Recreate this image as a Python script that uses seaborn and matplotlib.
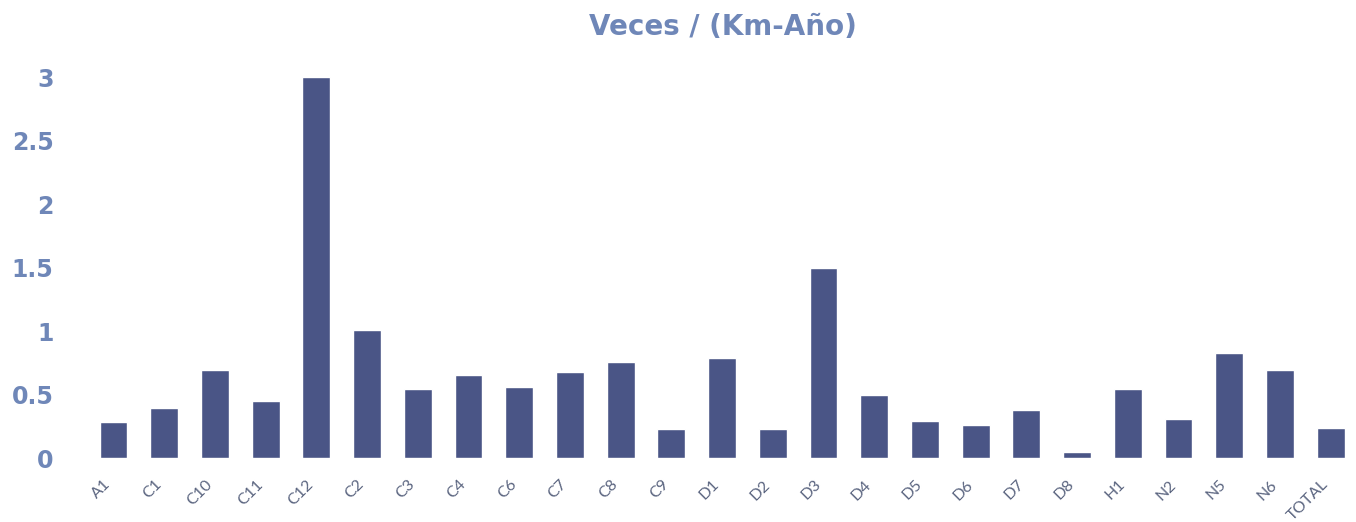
import matplotlib
matplotlib.use("Agg")
import matplotlib.pyplot as plt
import seaborn as sns
import pandas as pd

categories = ["A1", "C1", "C10", "C11", "C12", "C2", "C3", "C4", "C6", "C7", "C8", "C9",
              "D1", "D2", "D3", "D4", "D5", "D6", "D7", "D8", "H1", "N2", "N5", "N6", "TOTAL"]
values = [0.28, 0.39, 0.69, 0.45, 3.0, 1.01, 0.54, 0.65, 0.56, 0.68, 0.76, 0.23,
          0.79, 0.23, 1.50, 0.50, 0.29, 0.26, 0.38, 0.05, 0.54, 0.31, 0.83, 0.69, 0.24]
yticks = [0, 0.5, 1, 1.5, 2, 2.5, 3]
ytick_labels = ["0", "0.5", "1", "1.5", "2", "2.5", "3"]
title = "Veces / (Km-Año)"

df = pd.DataFrame({"cat": categories, "val": values})

sns.set_theme(style="white")
plt.rcParams["font.family"] = ["Lato", "DejaVu Sans"]

fig = plt.figure(figsize=(13.56, 5.22), dpi=100)
ax = fig.add_axes([0.065, 0.1226, 0.935, 0.7297])

sns.barplot(data=df, x="cat", y="val", order=categories, color="#4a5586",
            width=0.55, saturation=1, ax=ax)

ax.set_xlim(-0.5, len(categories) - 0.5)
ax.set_ylim(0, 3)
ax.set_yticks(yticks)
ax.set_yticklabels(ytick_labels, fontsize=17, fontweight="bold", color="#6f87b8",
                   family="DejaVu Sans")
ax.tick_params(axis="y", length=0, pad=25)
ax.tick_params(axis="x", length=0, pad=14)
for lbl in ax.get_xticklabels():
    lbl.set_rotation(45)
    lbl.set_ha("right")
    lbl.set_va("top")
    lbl.set_fontsize(11.5)
    lbl.set_color("#5b6580")
ax.set_xlabel("")
ax.set_ylabel("")
for s in ax.spines.values():
    s.set_visible(False)

fig.text(0.533, 0.948, title, ha="center", va="center", fontsize=20,
         fontweight="bold", color="#6f87b8", family="DejaVu Sans")

fig.savefig("out.png", dpi=100)
